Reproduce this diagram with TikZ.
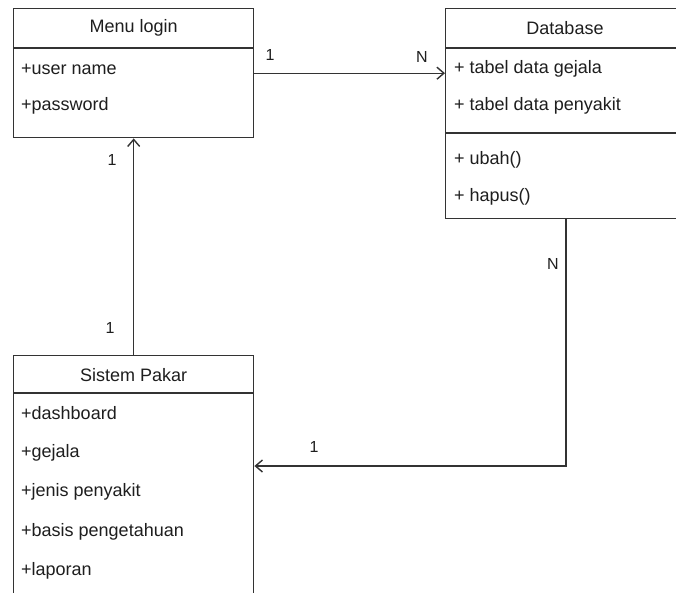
\documentclass[tikz,border=0pt]{standalone}
\usepackage{fontspec}
\setmainfont{Liberation Sans}
\usetikzlibrary{calc,arrows.meta}
\definecolor{umlline}{HTML}{333333}
\definecolor{umltext}{HTML}{1E1E1E}
\tikzset{
  umlbox/.style={draw=umlline, line width=1.4pt, rectangle, inner sep=0pt, anchor=north west, fill=white},
  sep/.style={draw=umlline, line width=1.4pt},
  title/.style={text=umltext, font=\fontsize{18}{21}\selectfont, inner sep=0pt, anchor=center},
  attr/.style={text=umltext, font=\fontsize{18}{21}\selectfont, inner sep=0pt, anchor=west},
  mult/.style={text=umltext, font=\fontsize{16}{19}\selectfont, inner sep=0pt},
  assoc/.style={draw=umlline, line width=1.4pt, -{Straight Barb[length=7pt,width=12pt]}},
}
\begin{document}
\begin{tikzpicture}[x=1pt,y=-1pt]
\useasboundingbox (0,0) rectangle (676,592);
\clip (0,0) rectangle (676,592);
\fill[white] (0,0) rectangle (676,592);

% class Menu login
\node[umlbox, minimum width=240pt, minimum height=129pt] (menu) at (13,8) {};
\draw[sep] ($(menu.north west)+(0,40)$) -- ($(menu.north east)+(0,40)$);
\node[title] (menuT) at ($(menu.north)+(0,20)$) {Menu login};
\node[attr] (menuA1) at (21,69) {+user name};
\node[attr] (menuA2) at (21,106) {+password};

% class Database
\node[umlbox, minimum width=231pt, minimum height=210pt] (db) at (445,8) {};
\draw[sep] ($(db.north west)+(0,40)$) -- ($(db.north east)+(0,40)$);
\draw[sep] ($(db.north west)+(0,125)$) -- ($(db.north east)+(0,125)$);
\node[title] (dbT) at (565,28) {Database};
\node[attr] (dbA1) at (454,69) {+ tabel data gejala};
\node[attr] (dbA2) at (454,106) {+ tabel data penyakit};
\node[attr] (dbM1) at (454,160) {+ ubah()};
\node[attr] (dbM2) at (454,197) {+ hapus()};

% class Sistem Pakar
\node[umlbox, minimum width=240pt, minimum height=260pt] (sp) at (13,355) {};
\draw[sep] ($(sp.north west)+(0,38)$) -- ($(sp.north east)+(0,38)$);
\node[title] (spT) at ($(sp.north)+(0,20)$) {Sistem Pakar};
\node[attr] (spA1) at (21,413) {+dashboard};
\node[attr] (spA2) at (21,453) {+gejala};
\node[attr] (spA3) at (21,492) {+jenis penyakit};
\node[attr] (spA4) at (21,532) {+basis pengetahuan};
\node[attr] (spA5) at (21,571) {+laporan};

% associations
\draw[assoc] (menu.east) -- (menu.east -| db.west);
\node[mult] (m1a) at (270,55) {1};
\node[mult] (m1b) at (422,57) {N};

\draw[assoc] (sp.north) -- (menu.south);
\node[mult] (m2a) at (112,160) {1};
\node[mult] (m2b) at (110,328) {1};

\coordinate (dbout) at ($(db.south west)+(121,0)$);
\coordinate (spin) at ($(sp.north east)+(0,111)$);
\draw[assoc] (dbout) |- (spin);
\node[mult] (m3a) at (553,264) {N};
\node[mult] (m3b) at (314,447) {1};
\end{tikzpicture}
\end{document}
